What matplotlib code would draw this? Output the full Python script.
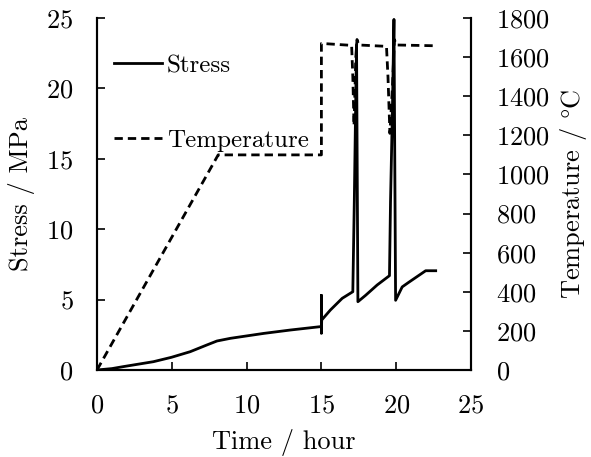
import matplotlib
matplotlib.use("Agg")
import matplotlib.pyplot as plt

# stress curve (hour, MPa)
stress_t = [0, 1.0, 1.76, 3.77, 4.97, 6.23, 7.35, 8.02, 8.92, 11.15, 12.93, 14.94,
            15.0, 15.0, 15.0, 15.02, 15.6, 16.39, 17.1,
            17.2, 17.28, 17.35, 17.44,
            17.95, 18.73, 19.55,
            19.62, 19.74, 19.85, 19.96,
            20.4, 20.8, 21.97, 22.64]
stress = [0, 0.1, 0.24, 0.59, 0.9, 1.3, 1.78, 2.06, 2.25, 2.6, 2.84, 3.08,
          3.1, 5.3, 2.6, 3.55, 4.26, 5.09, 5.56,
          12.0, 18.1, 23.1, 4.85,
          5.3, 6.04, 6.7,
          11.95, 18.1, 24.9, 4.95,
          5.9, 6.2, 7.05, 7.05]

# temperature curve (hour, degC)
temp_t = [0, 8.1, 15.0, 15.0, 17.02, 17.1, 17.18, 17.3, 17.38, 17.5,
          19.35, 19.45, 19.58, 19.75, 19.88, 20.0, 22.64]
temp = [0, 1100, 1100, 1670, 1660, 1500, 1250, 1600, 1690, 1662,
        1655, 1500, 1210, 1450, 1690, 1662, 1658]

plt.rcParams['font.family'] = ['cmr10', 'DejaVu Serif']
plt.rcParams['mathtext.fontset'] = 'cm'
plt.rcParams['axes.formatter.use_mathtext'] = True
fs = 19

fig = plt.figure(figsize=(5.91, 4.57), dpi=100)
ax = fig.add_axes([97 / 591, 87 / 457, 374 / 591, 352 / 457])
ax2 = ax.twinx()

l1, = ax.plot(stress_t, stress, color='black', lw=2.0, label='Stress')
l2, = ax2.plot(temp_t, temp, color='black', lw=2.0, ls=(0, (3, 1.8)), label='Temperature')

ax.set_xlim(0, 25)
ax.set_ylim(0, 25)
ax2.set_ylim(0, 1800)
ax.set_xticks([0, 5, 10, 15, 20, 25])
ax.set_yticks([0, 5, 10, 15, 20, 25])
ax2.set_yticks(range(0, 1801, 200))

for a in (ax, ax2):
    a.spines['top'].set_visible(False)
    for s in a.spines.values():
        s.set_linewidth(1.5)
ax.tick_params(direction='in', length=6, width=1.2, pad=17, labelsize=19)
ax2.tick_params(direction='in', length=6, width=1.2, pad=18, labelsize=19)

ax.set_xlabel('Time / hour', fontsize=fs)
ax.set_ylabel('Stress / MPa', fontsize=fs)
ax2.set_ylabel(r'Temperature / $\degree$C', fontsize=fs)
ax.xaxis.set_label_coords(0.5, -0.168)
ax.yaxis.set_label_coords(-0.165, 0.5)
ax2.yaxis.set_label_coords(1.232, 0.5)

ax.legend(handles=[l1, l2], loc='upper left', bbox_to_anchor=(0.045, 0.896),
          frameon=False, fontsize=18, handlelength=1.92, handletextpad=0.2,
          labelspacing=2.1, borderpad=0, borderaxespad=0)

fig.savefig('out.png', dpi=100)
